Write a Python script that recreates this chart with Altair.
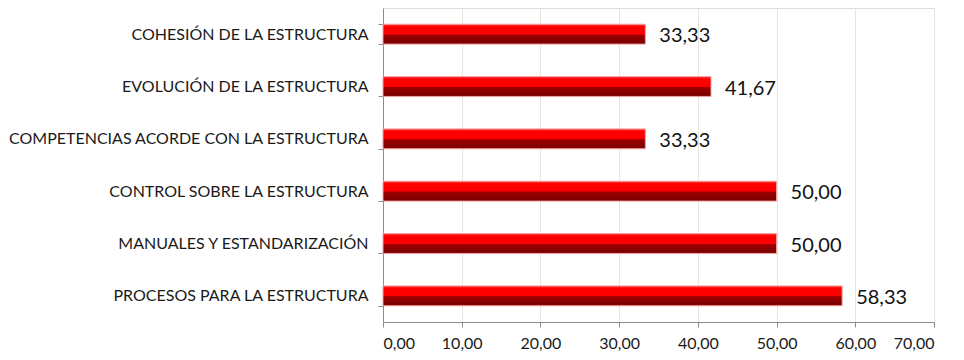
import altair as alt
import pandas as pd

categorias = [
    "COHESIÓN DE LA ESTRUCTURA",
    "EVOLUCIÓN DE LA ESTRUCTURA ",
    "COMPETENCIAS ACORDE CON LA ESTRUCTURA",
    "CONTROL SOBRE LA ESTRUCTURA",
    "MANUALES Y ESTANDARIZACIÓN",
    "PROCESOS PARA LA ESTRUCTURA",
]
valores = [33.33, 41.67, 33.33, 50.00, 50.00, 58.33]
ticks_x = [0, 10, 20, 30, 40, 50, 60, 70]

df = pd.DataFrame({"categoria": categorias, "valor": valores})
df["etiqueta"] = [f"{v:.2f}".replace(".", ",") for v in valores]

label_font = "Lato"

y_enc = alt.Y(
    "categoria:N",
    sort=categorias,
    title=None,
    scale=alt.Scale(paddingInner=0.62, paddingOuter=0.31),
    axis=alt.Axis(
        tickBand="extent",
        tickSize=5,
        tickColor="#8c8c8c",
        domainColor="#8c8c8c",
        labelPadding=10,
        labelLimit=500,
        labelFont=label_font,
        labelFontSize=16,
        labelColor="#1a1a1a",
        grid=False,
    ),
)

x_enc = alt.X(
    "valor:Q",
    title=None,
    scale=alt.Scale(domain=[0, 70], nice=False),
    axis=alt.Axis(
        values=ticks_x,
        labelExpr="replace(format(datum.value, '.2f'), '.', ',')",
        tickSize=5,
        tickColor="#8c8c8c",
        domainColor="#8c8c8c",
        gridColor="#e8e5da",
        labelFont=label_font,
        labelFontSize=16,
        labelColor="#1a1a1a",
        labelPadding=8,
    ),
)

gradiente = alt.Gradient(
    gradient="linear",
    x1=0, y1=0, x2=0, y2=1,
    stops=[
        alt.GradientStop(color="#ff4040", offset=0.0),
        alt.GradientStop(color="#ff0000", offset=0.12),
        alt.GradientStop(color="#ff0000", offset=0.5),
        alt.GradientStop(color="#a00000", offset=0.54),
        alt.GradientStop(color="#7c0000", offset=0.9),
        alt.GradientStop(color="#900000", offset=1.0),
    ],
)

barras = alt.Chart(df).mark_bar(
    color=gradiente,
    stroke="#f3a0a0",
    strokeWidth=1,
).encode(y=y_enc, x=x_enc)

textos = alt.Chart(df).mark_text(
    align="left",
    baseline="middle",
    dx=14,
    dy=2,
    font=label_font,
    fontSize=20,
    color="#111111",
).encode(y=alt.Y("categoria:N", sort=categorias), x="valor:Q", text="etiqueta:N")

chart = (
    alt.layer(barras, textos)
    .properties(
        width=551,
        height=314,
        autosize=alt.AutoSizeParams(type="none"),
        padding={"left": 383, "top": 8, "right": 30, "bottom": 38},
    )
    .configure_view(stroke=None)
    .configure(background="white")
)

chart.save("out.html", embed_options={"renderer": "svg", "actions": False})
